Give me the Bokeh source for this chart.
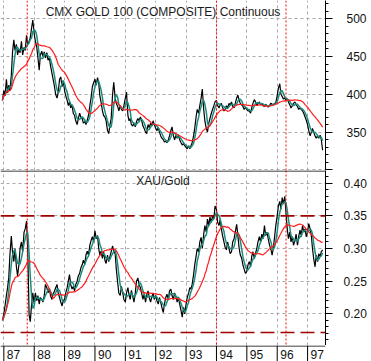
import pandas as pd
from bokeh.plotting import figure
from bokeh.layouts import column
from bokeh.models import (Range1d, FixedTicker, Grid, Span, Label,
                          PrintfTickFormatter)
from bokeh.core.properties import value
from bokeh.embed import file_html
from bokeh.resources import INLINE

# ---- data: semi-monthly closes, 15 Dec 1986 .. 1 Jul 1997 ----
dates = pd.date_range("1986-12-15", "1997-07-01", freq="SMS")

gold_1986 = [392]
gold_1987 = [405, 398, 420, 402, 412, 405, 425, 455, 472, 458, 466, 452,
             460, 455, 470, 452, 462, 458, 478, 466, 470, 475, 488, 498]
gold_1988 = [480, 470, 462, 448, 432, 452, 457, 450, 456, 448, 455, 445,
             448, 438, 428, 420, 410, 400, 395, 402, 420, 423, 410, 418]
gold_1989 = [405, 398, 392, 385, 390, 382, 386, 375, 372, 365, 360, 368,
             375, 370, 368, 362, 364, 360, 366, 372, 385, 395, 410, 415]
gold_1990 = [420, 412, 422, 415, 398, 390, 378, 372, 370, 365, 352, 348,
             360, 368, 400, 416, 395, 388, 384, 378, 385, 380, 378, 385]
gold_1991 = [395, 403, 372, 365, 368, 360, 358, 362, 357, 364, 368, 365,
             370, 366, 358, 355, 350, 348, 360, 356, 362, 358, 365, 360]
gold_1992 = [355, 352, 356, 350, 345, 342, 340, 337, 338, 336, 340, 345,
             352, 357, 345, 340, 346, 342, 346, 340, 336, 333, 335, 332]
gold_1993 = [330, 328, 332, 328, 332, 336, 345, 355, 370, 380, 375, 385,
             395, 407, 380, 365, 355, 350, 362, 368, 375, 380, 385, 390]
gold_1994 = [392, 385, 382, 386, 388, 383, 378, 380, 385, 382, 388, 386,
             390, 384, 382, 388, 395, 399, 392, 388, 386, 384, 380, 383]
gold_1995 = [380, 378, 378, 375, 382, 388, 393, 390, 385, 388, 390, 386,
             388, 385, 384, 387, 385, 383, 385, 388, 387, 386, 388, 389]
gold_1996 = [398, 408, 414, 400, 397, 394, 395, 392, 394, 390, 386, 382,
             385, 388, 390, 386, 384, 380, 382, 380, 378, 375, 370, 366]
gold_1997 = [360, 352, 345, 350, 355, 350, 345, 342, 345, 342, 346, 340,
             326]

xau_1986 = [0.190]
xau_1987 = [0.200, 0.212, 0.228, 0.240, 0.255, 0.290, 0.319, 0.295,
            0.280, 0.300, 0.272, 0.258, 0.275, 0.300, 0.310, 0.295,
            0.325, 0.330, 0.342, 0.300, 0.198, 0.188, 0.215, 0.232]
xau_1988 = [0.215, 0.232, 0.220, 0.228, 0.215, 0.225, 0.222, 0.218,
            0.228, 0.245, 0.240, 0.232, 0.238, 0.228, 0.222, 0.230,
            0.235, 0.240, 0.245, 0.232, 0.225, 0.218, 0.212, 0.220]
xau_1989 = [0.222, 0.232, 0.240, 0.250, 0.260, 0.245, 0.238, 0.242,
            0.235, 0.245, 0.250, 0.258, 0.262, 0.270, 0.275, 0.282,
            0.276, 0.290, 0.296, 0.290, 0.305, 0.312, 0.318, 0.310]
xau_1990 = [0.327, 0.315, 0.320, 0.300, 0.290, 0.296, 0.285, 0.295,
            0.282, 0.277, 0.290, 0.280, 0.288, 0.295, 0.304, 0.296,
            0.292, 0.268, 0.248, 0.232, 0.228, 0.242, 0.232, 0.222]
xau_1991 = [0.218, 0.232, 0.240, 0.228, 0.222, 0.236, 0.226, 0.218,
            0.232, 0.250, 0.255, 0.245, 0.240, 0.232, 0.222, 0.230,
            0.218, 0.228, 0.235, 0.225, 0.218, 0.226, 0.232, 0.222]
xau_1992 = [0.228, 0.220, 0.215, 0.225, 0.218, 0.210, 0.202, 0.215,
            0.225, 0.230, 0.222, 0.235, 0.238, 0.228, 0.222, 0.232,
            0.226, 0.218, 0.225, 0.215, 0.205, 0.195, 0.210, 0.200]
xau_1993 = [0.215, 0.225, 0.232, 0.240, 0.238, 0.245, 0.260, 0.275,
            0.288, 0.300, 0.295, 0.310, 0.317, 0.300, 0.322, 0.335,
            0.325, 0.345, 0.335, 0.348, 0.340, 0.350, 0.345, 0.365]
xau_1994 = [0.360, 0.340, 0.335, 0.345, 0.330, 0.320, 0.310, 0.302,
            0.298, 0.310, 0.300, 0.292, 0.295, 0.310, 0.315, 0.325,
            0.337, 0.320, 0.300, 0.290, 0.285, 0.275, 0.268, 0.262]
xau_1995 = [0.265, 0.275, 0.280, 0.272, 0.288, 0.295, 0.285, 0.292,
            0.300, 0.310, 0.318, 0.310, 0.322, 0.315, 0.335, 0.320,
            0.325, 0.315, 0.305, 0.300, 0.290, 0.300, 0.318, 0.335]
xau_1996 = [0.350, 0.365, 0.372, 0.360, 0.378, 0.368, 0.380, 0.355,
            0.330, 0.315, 0.325, 0.310, 0.318, 0.305, 0.312, 0.322,
            0.305, 0.318, 0.328, 0.320, 0.335, 0.325, 0.330, 0.318]
xau_1997 = [0.325, 0.338, 0.330, 0.320, 0.300, 0.285, 0.272, 0.290,
            0.280, 0.292, 0.288, 0.295, 0.298]

gold = (gold_1986 + gold_1987 + gold_1988 + gold_1989 + gold_1990 + gold_1991
        + gold_1992 + gold_1993 + gold_1994 + gold_1995 + gold_1996 + gold_1997)
xau_gold = (xau_1986 + xau_1987 + xau_1988 + xau_1989 + xau_1990 + xau_1991
            + xau_1992 + xau_1993 + xau_1994 + xau_1995 + xau_1996 + xau_1997)
assert len(gold) == len(dates) == len(xau_gold)

year_ticks = [1987, 1988, 1989, 1990, 1991, 1992, 1993, 1994, 1995, 1996, 1997]
year_labels = ["87", "88", "89", "90", "91", "92", "93", "94", "95", "96", "97"]
event_lines = [1987.77, 1994.0, 1996.29]
xau_bands = [0.35, 0.1715]

# decimal-year positions and moving averages
t = list(dates.year + (dates.dayofyear - 1) / 365.25)
gold_s = pd.Series(gold, dtype=float)
xau_s = pd.Series(xau_gold, dtype=float)
gold_fast = gold_s.rolling(4, min_periods=1).mean()
gold_slow = gold_s.rolling(20, min_periods=1).mean()
xau_fast = xau_s.rolling(4, min_periods=1).mean()
xau_slow = xau_s.rolling(20, min_periods=1).mean()

X0, X1 = 1986.89, 1997.59
FONT = "Liberation Sans"
GRID_COLOR = "#a9a9a9"
TEAL = "#1c8c7e"


def bare(h, w=325, right=46, y0=0.0, y1=1.0):
    p = figure(frame_width=w, frame_height=h,
               x_range=Range1d(X0, X1), y_range=Range1d(y0, y1),
               output_backend="svg", toolbar_location=None,
               x_axis_location=None, y_axis_location=None,
               min_border_left=0, min_border_right=right,
               min_border_top=0, min_border_bottom=0,
               outline_line_color=None)
    p.center = [r for r in p.center if not isinstance(r, Grid)]
    return p


def panel(h, y0, y1, major, minor, standoff, fmt, hide=()):
    p = figure(frame_width=325, frame_height=h,
               x_range=Range1d(X0, X1), y_range=Range1d(y0, y1),
               output_backend="svg", toolbar_location=None,
               x_axis_location=None, y_axis_location="right",
               min_border_left=0, min_border_right=46,
               min_border_top=0, min_border_bottom=0,
               outline_line_color=None)
    p.center = [r for r in p.center if not isinstance(r, Grid)]
    ax = p.yaxis[0]
    ax.ticker = FixedTicker(ticks=major, minor_ticks=minor)
    ax.formatter = PrintfTickFormatter(format=fmt)
    ax.major_label_overrides = {v: "" for v in hide}
    ax.axis_line_color = "black"
    ax.major_tick_in = 0
    ax.major_tick_out = 7
    ax.minor_tick_in = 0
    ax.minor_tick_out = 3
    ax.major_label_standoff = standoff
    ax.major_label_text_font = FONT
    ax.major_label_text_font_size = "12px"
    ax.major_label_text_color = "#111111"
    p.add_layout(Grid(dimension=0, ticker=FixedTicker(ticks=year_ticks),
                      grid_line_color=GRID_COLOR, grid_line_dash="3 3"))
    p.add_layout(Grid(dimension=1, ticker=FixedTicker(ticks=major),
                      grid_line_color=GRID_COLOR, grid_line_dash="3 3"))
    for e in event_lines:
        p.add_layout(Span(location=e, dimension="height", line_color="#ff0000",
                          line_dash="2 2", line_width=1))
    return p


def title(p, text, y0, y1, h, px_from_top):
    p.add_layout(Label(x=(X0 + X1) / 2, y=y1 - px_from_top / h * (y1 - y0),
                       text=text, text_align="center", text_baseline="middle",
                       text_font=FONT, text_font_size="12px",
                       text_color="#1a1a1a"))


# ---- top panel: gold futures ----
G0, G1, GH = 299.3, 524.0, 170
p1 = panel(GH, G0, G1, [300, 350, 400, 450, 500],
           list(range(300, 530, 10)), 14, "%d", hide=(300,))
p1.line(t, gold, line_color="black", line_width=1.2)
p1.line(t, gold_fast, line_color=TEAL, line_width=1.5)
p1.line(t, gold_slow, line_color="#ff1a1a", line_width=1.2)
title(p1, "CMX GOLD 100 (COMPOSITE) Continuous", G0, G1, GH, 11)

# ---- bottom panel: XAU / gold ratio ----
R0, R1, RH = 0.1515, 0.4194, 175
p2 = panel(RH, R0, R1, [0.15, 0.20, 0.25, 0.30, 0.35, 0.40],
           [round(0.15 + 0.01 * i, 2) for i in range(28)], 11, "%.2f",
           hide=(0.15,))
# rule separating the two panels along the top edge of this frame
p2.add_layout(Span(location=R1 - 0.5 / RH * (R1 - R0), dimension="width",
                   line_color="black", line_width=1))
for b in xau_bands:
    p2.add_layout(Span(location=b, dimension="width", line_color="#9e0000",
                       line_dash="14 6", line_width=1.6))
p2.line(t, xau_gold, line_color="black", line_width=1.2)
p2.line(t, xau_fast, line_color=TEAL, line_width=1.5)
p2.line(t, xau_slow, line_color="#ff1a1a", line_width=1.2)
title(p2, "XAU/Gold", R0, R1, RH, 10)

# ---- year strip under the panels ----
p3 = bare(16, y0=0, y1=16)
p3.add_layout(Span(location=15.5, dimension="width", line_color="black",
                   line_width=1))
p3.segment(x0=year_ticks, y0=0, x1=year_ticks, y1=16,
           line_color="black", line_width=1)
p3.text(x=year_ticks, y=7.5, text=year_labels, x_offset=3,
        text_align="left", text_baseline="middle",
        text_font=value(FONT), text_font_size="12px", text_color="#111111")

layout = column(p1, p2, p3, spacing=0)
open("out.html", "w").write(file_html(layout, INLINE))
